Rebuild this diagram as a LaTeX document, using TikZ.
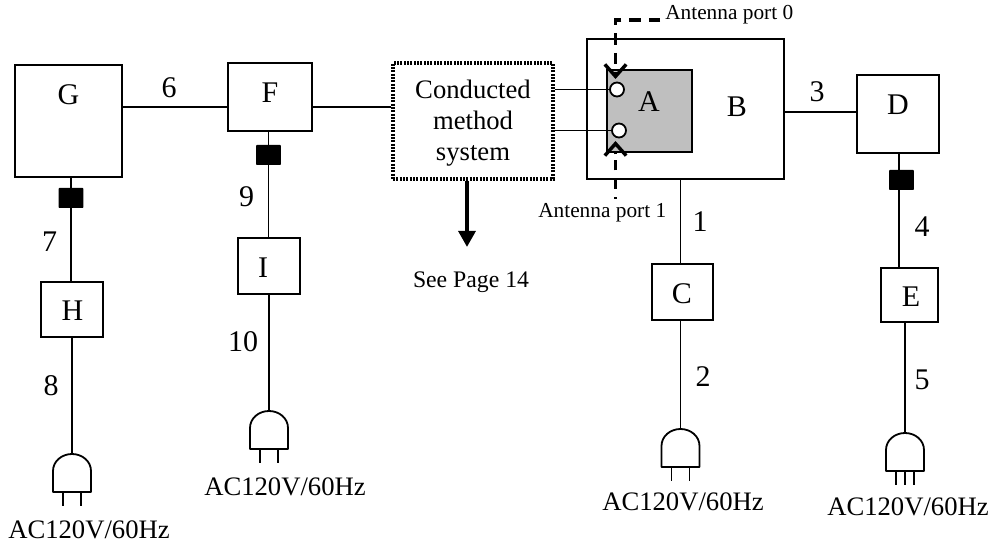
\documentclass[tikz,border=0pt]{standalone}
\usepackage{fontspec}
\setmainfont{Liberation Serif}
\usetikzlibrary{calc}
\usetikzlibrary{arrows.meta}
\tikzset{
  unit/.style={draw, line width=1.35pt, inner sep=0, fill=white},
  tag/.style n args={3}{label={[num, xshift=#2pt, yshift=#3pt]center:#1}},
  wire/.style={line width=1.35pt},
  feed/.style={fill=black, rounded corners=.5pt, inner sep=0, minimum width=18.5pt, minimum height=15pt},
  num/.style={font=\fontsize{22.5}{22.5}\selectfont, inner sep=0},
  mains/.style={font=\fontsize{20}{20}\selectfont, inner sep=0},
  port/.style={font=\fontsize{16}{16}\selectfont, inner sep=0},
  probe/.style={line width=2.6pt, dash pattern=on 8.5pt off 6pt, -{Straight Barb[length=9pt,width=16pt,line width=2.6pt]}},
  plug/.pic={
    \draw[wire, line join=round] (-19,38)--(-19,17) .. controls (-19,7) and (-10,0) .. (0,0) .. controls (10,0) and (19,7) .. (19,17) --(19,38)--cycle;
  }
}
\begin{document}
\begin{tikzpicture} [x=.75pt, y=-.75pt]
\useasboundingbox (0,0) rectangle (993,545);
\node[unit, minimum width=80pt, minimum height=84pt, tag={G}{0}{19.5}] (G) at (68.5,121) {};
\node[unit, minimum width=63pt, minimum height=51pt, tag={F}{0}{3}] (F) at (270,97) {};
\node[unit, minimum width=61.5pt, minimum height=58.5pt, tag={D}{0}{6.75}] (D) at (898,114) {};
\node[unit, minimum width=46.5pt, minimum height=41.25pt, tag={H}{.4}{-1.1}] (H) at (72,309.5) {};
\node[unit, minimum width=46.5pt, minimum height=42pt, tag={I}{-4.5}{-1.5}] (I) at (269,266) {};
\node[unit, minimum width=45.75pt, minimum height=42pt, tag={C}{-.4}{-1.5}] (C) at (682.5,292) {};
\node[unit, minimum width=42.75pt, minimum height=40.5pt, tag={E}{1.1}{-1.5}] (E) at (909.5,295) {};
\node[unit, minimum width=147.75pt, minimum height=105pt, tag={B}{38.6}{1.5}] (B) at (685.5,109) {};
\node[unit, fill=black!25, minimum width=63.75pt, minimum height=61.5pt, tag={A}{-.4}{6.75}] (A) at (649.5,111) {};
\node[unit, line width=2.4pt, dash pattern=on 1.6pt off .9pt, minimum width=120pt, minimum height=87pt, label={[align=center, yshift=-1.5pt, font=\fontsize{20}{20}\selectfont]center:{Conducted\\[3.2pt]method\\[3.2pt]system}}] (S) at (473,121) {};
\node[draw, wire, circle, fill=white, inner sep=0, minimum size=10.5pt] (P0) at (617,89.5) {};
\node[draw, wire, circle, fill=white, inner sep=0, minimum size=10.5pt] (P1) at (619,130.5) {};
\node[feed] (fG) at (71,198) {};
\node[feed] (fF) at (268.5,155) {};
\node[feed] (fD) at (901.5,180) {};
\coordinate (wD) at (899,180);
\foreach \name/\x/\y in {plugH/72/454, plugI/269/411, plugC/680.5/429, plugE/905/433} {
 \coordinate (\name) at (\x,\y);
 \pic at (\name) {plug};
}
\foreach \x in {-9,9} {
 \draw[wire] ($(plugH)+(\x,38)$) --++(0,14);
 \draw[wire] ($(plugI)+(\x,38)$) --++(0,14);
 \draw[wire] ($(plugC)+(\x,38)$) --++(0,14);
}
\foreach \x in {-9,0,9} \draw[wire] ($(plugE)+(\x,38)$) --++(0,14);
\draw[wire] (G.east|-0,107) -- (F.west|-0,107);
\draw[wire] (F.east|-0,107) -- (S.west|-0,107);
\draw[wire] (S.east|-P0) -- (P0);
\draw[wire] (S.east|-P1) -- (P1);
\draw[wire] (B.east|-0,112) -- (D.west|-0,112);
\draw[wire] (G.south-|fG) -- (fG) -- (H.north-|fG);
\draw[wire] (H.south-|plugH) -- (plugH);
\draw[wire] (F.south-|fF) -- (fF) -- (I.north-|fF);
\draw[wire] (I.south-|plugI) -- (plugI);
\draw[wire] (B.south-|plugC) -- (C.north-|plugC);
\draw[wire] (C.south-|plugC) -- (plugC);
\draw[wire] (D.south-|wD) -- (wD) -- (E.north-|wD);
\draw[wire] (E.south-|plugE) -- (plugE);
\coordinate (out) at (467,247);
\draw[line width=3pt, -{Triangle[length=12pt,width=12.5pt]}] (S.south-|out) -- (out);
\node[port, anchor=west] (port0) at (665,15) {Antenna port 0};
\node[port, anchor=west] (port1) at (538,213) {Antenna port 1};
\coordinate (in0) at (615.5,79);
\coordinate (in1) at (615.5,141);
\coordinate (end1) at (615.5,199);
\draw[probe] (660,20) -- (615.5,20) -- (in0);
\draw[probe, dash pattern=on 1.5pt off 6pt on 8pt off 6pt on 8pt off 4pt] (end1) -- (in1);
\node[num] (n6) at (169,88) {6};
\node[num] (n7) at (49.5,242) {7};
\node[num] (n8) at (51,386) {8};
\node[num] (n9) at (246.5,197) {9};
\node[num] (n10) at (243,342) {10};
\node[num] (n1) at (700,222) {1};
\node[num] (n2) at (703,377) {2};
\node[num] (n3) at (817,92) {3};
\node[num] (n4) at (922,227) {4};
\node[num] (n5) at (922,380) {5};
\node[mains] (acH) at (89,530) {AC120V/60Hz};
\node[mains] (acI) at (285,487) {AC120V/60Hz};
\node[mains] (acC) at (683,502) {AC120V/60Hz};
\node[mains] (acE) at (908,507) {AC120V/60Hz};
\node[port, font=\fontsize{17.8}{17.8}\selectfont] (see) at (471,282) {See Page 14};
\end{tikzpicture}
\end{document}
